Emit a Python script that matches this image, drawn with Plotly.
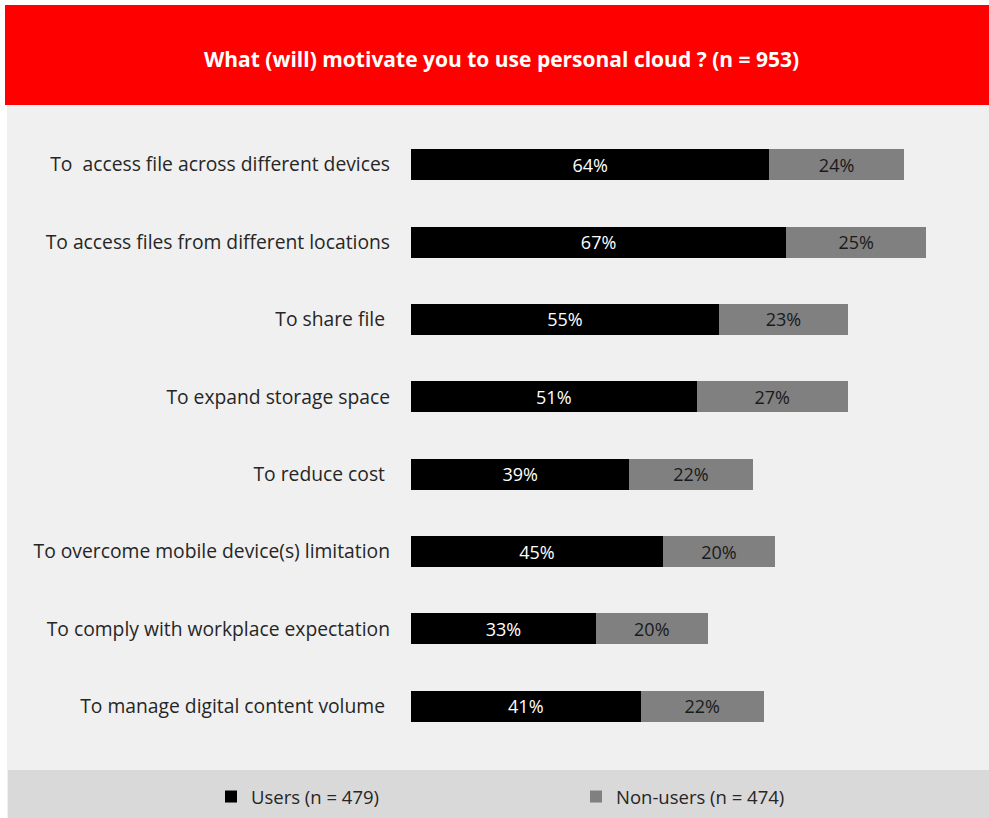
import plotly.graph_objects as go

categories = [
    "To\u00a0 access file across different devices",
    "To access files from different locations",
    "To share file\u00a0",
    "To expand storage space",
    "To reduce cost\u00a0",
    "To overcome mobile device(s) limitation",
    "To comply with workplace expectation",
    "To manage digital content volume\u00a0",
]
users = [64, 67, 55, 51, 39, 45, 33, 41]
non_users = [24, 25, 23, 27, 22, 20, 20, 22]
series_names = ["Users (n = 479)", "Non-users (n = 474)"]
title_text = "What (will) motivate you to use personal cloud ? (n = 953)"

W, H = 989, 818
L, R, T, B = 411, 18, 126, 73
pw, ph = W - L - R, H - T - B

def px(x):
    return (x - L) / pw

def py(y):
    return (H - B - y) / ph

FONT = "Open Sans"

fig = go.Figure()
fig.add_trace(go.Bar(
    y=categories, x=users, orientation="h", name=series_names[0],
    marker=dict(color="#000000", line=dict(width=0)),
    text=[f"{v}%" for v in users], textposition="inside",
    insidetextanchor="middle",
    textfont=dict(color="#ffffff", size=18, family=FONT),
))
fig.add_trace(go.Bar(
    y=categories, x=non_users, orientation="h", name=series_names[1],
    marker=dict(color="#808080", line=dict(width=0)),
    text=[f"{v}%" for v in non_users], textposition="inside",
    insidetextanchor="middle",
    textfont=dict(color="#1a1a1a", size=18, family=FONT),
))

shapes = [
    dict(type="rect", xref="paper", yref="paper", layer="below",
         x0=px(7), x1=px(989), y0=py(105), y1=py(818),
         fillcolor="#f0f0f0", line=dict(width=0)),
    dict(type="rect", xref="paper", yref="paper", layer="below",
         x0=px(8), x1=px(989), y0=py(770), y1=py(818),
         fillcolor="#d9d9d9", line=dict(width=0)),
    dict(type="rect", xref="paper", yref="paper", layer="below",
         x0=px(5), x1=px(989), y0=py(5), y1=py(105),
         fillcolor="#ff0000", line=dict(width=0)),
]

fig.update_layout(
    width=W, height=H,
    margin=dict(l=L, r=R, t=T, b=B, pad=0, autoexpand=False),
    paper_bgcolor="#ffffff",
    plot_bgcolor="#e5e5e5",
    barmode="stack",
    bargap=0.6,
    font=dict(family=FONT, size=18, color="#262626"),
    shapes=shapes,
    showlegend=True,
    legend=dict(
        orientation="h", x=px(211), y=py(797), xanchor="left", yanchor="middle",
        bgcolor="rgba(0,0,0,0)", font=dict(size=18.5, family=FONT, color="#262626"),
        entrywidth=320, entrywidthmode="pixels", traceorder="normal",
    ),
    annotations=[dict(
        text=f"<b>{title_text}</b>", xref="paper", yref="paper",
        x=px(501), y=py(59), xanchor="center", yanchor="middle",
        showarrow=False, font=dict(size=21, color="#ffffff", family=FONT),
    )],
)
fig.update_xaxes(range=[0, 100], showgrid=False, zeroline=False,
                 showticklabels=False, fixedrange=True)
fig.update_yaxes(autorange=False, range=[7.5, -0.5], showgrid=False,
                 zeroline=False, ticks="", ticklabelstandoff=20,
                 tickfont=dict(size=19.3, family=FONT, color="#262626"))

fig.write_html("out.html")
